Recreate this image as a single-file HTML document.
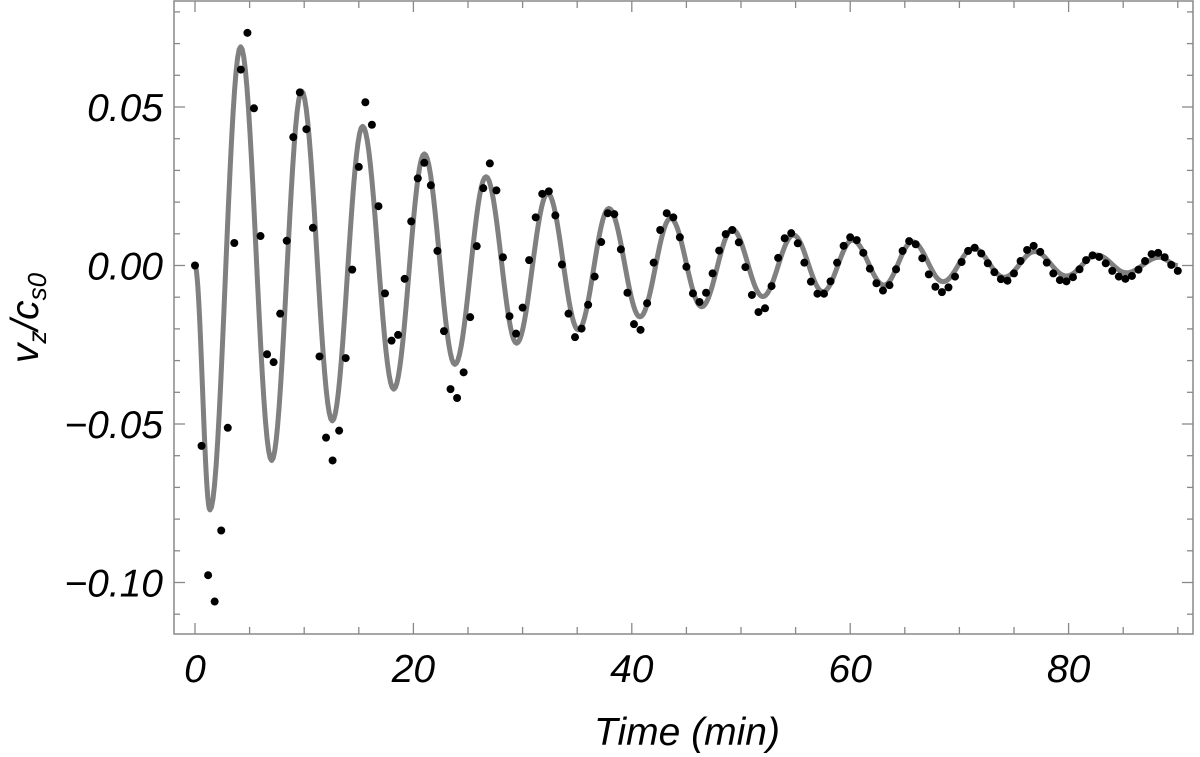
<!DOCTYPE html>
<html><head><meta charset="utf-8"><style>
html,body{margin:0;padding:0;background:#fff;}
svg{display:block;font-family:"Liberation Sans",sans-serif;}
</style></head><body>
<svg id="chart" width="1200" height="757" viewBox="0 0 1200 757">
<g id="ticks"></g>
<path id="fit" fill="none" stroke="#808080" stroke-width="5" stroke-linejoin="round"/>
<g id="dots"></g>
<rect x="174" y="1" width="1019" height="633" fill="none" stroke="#888" stroke-width="1.5"/>
<g id="labels" font-size="39" font-style="italic" fill="#000"></g>
<text x="687" y="745" font-size="39" font-style="italic" text-anchor="middle">Time (min)</text>
<text transform="translate(38,318) rotate(-90)" font-size="39" font-style="italic" text-anchor="middle">v<tspan font-size="26" dy="8">z</tspan><tspan dy="-8">/c</tspan><tspan font-size="26" dy="8">s0</tspan></text>
</svg>
<script>
const times = [0,0.6,1.2,1.8,2.4,3,3.6,4.2,4.8,5.4,6,6.6,7.2,7.8,8.4,9,9.6,10.2,10.8,11.4,12,12.6,13.2,13.8,14.4,15,15.6,16.2,16.8,17.4,18,18.6,19.2,19.8,20.4,21,21.6,22.2,22.8,23.4,24,24.6,25.2,25.8,26.4,27,27.6,28.2,28.8,29.4,30,30.6,31.2,31.8,32.4,33,33.6,34.2,34.8,35.4,36,36.6,37.2,37.8,38.4,39,39.6,40.2,40.8,41.4,42,42.6,43.2,43.8,44.4,45,45.6,46.2,46.8,47.4,48,48.6,49.2,49.8,50.4,51,51.6,52.2,52.8,53.4,54,54.6,55.2,55.8,56.4,57,57.6,58.2,58.8,59.4,60,60.6,61.2,61.8,62.4,63,63.6,64.2,64.8,65.4,66,66.6,67.2,67.8,68.4,69,69.6,70.2,70.8,71.4,72,72.6,73.2,73.8,74.4,75,75.6,76.2,76.8,77.4,78,78.6,79.2,79.8,80.4,81,81.6,82.2,82.8,83.4,84,84.6,85.2,85.8,86.4,87,87.6,88.2,88.8,89.4,90];
const values = [0,-0.0569,-0.0977,-0.106,-0.0836,-0.0512,0.0071,0.0618,0.0734,0.0496,0.0093,-0.028,-0.0305,-0.0152,0.0078,0.0405,0.0546,0.043,0.0119,-0.0287,-0.0543,-0.0615,-0.0521,-0.0292,-0.0013,0.0311,0.0515,0.0444,0.0187,-0.0088,-0.0237,-0.0219,-0.0042,0.0139,0.0275,0.0324,0.0253,0.0046,-0.0207,-0.039,-0.0418,-0.0337,-0.0163,0.0061,0.0244,0.0322,0.0237,0.0026,-0.016,-0.0215,-0.0133,0.0017,0.0152,0.0226,0.0234,0.0158,0.0003,-0.0152,-0.0226,-0.0199,-0.0124,-0.0035,0.0074,0.0165,0.0162,0.0051,-0.0086,-0.0185,-0.0203,-0.0119,0.0009,0.0112,0.0165,0.0152,0.0089,-0.0004,-0.0088,-0.0115,-0.0086,-0.0025,0.0047,0.0099,0.0112,0.0073,-0.0005,-0.0093,-0.0147,-0.0135,-0.0065,0.0024,0.0086,0.0102,0.007,0.0009,-0.0051,-0.0089,-0.0089,-0.005,0.0009,0.0062,0.0089,0.008,0.004,-0.001,-0.0056,-0.0079,-0.0062,-0.0012,0.0046,0.0077,0.0067,0.0023,-0.0028,-0.0067,-0.0084,-0.0069,-0.0035,0.0011,0.0046,0.0056,0.0038,0.0007,-0.0021,-0.0043,-0.0048,-0.0025,0.0014,0.0049,0.0062,0.0043,0.0009,-0.0025,-0.0046,-0.005,-0.0037,-0.0012,0.0017,0.0032,0.0027,0.0007,-0.0017,-0.0035,-0.0042,-0.0033,-0.0013,0.0014,0.0036,0.004,0.0026,0.0002,-0.0017];
const fitTimes = [0,1.37,4.18,7.02,9.77,12.57,15.35,18.2,21.0,23.8,26.65,29.45,32.3,35.1,37.9,40.75,43.55,46.4,49.2,52.0,54.8,57.5,60.2,63.1,65.7,68.5,71.3,74.1,76.9,79.8,82.6,85.3,88.3,90];
const fitValues = [0,-0.0771,0.069,-0.0615,0.055,-0.049,0.0439,-0.039,0.0352,-0.0312,0.028,-0.0245,0.0228,-0.0203,0.018,-0.0162,0.0149,-0.013,0.0114,-0.0098,0.0096,-0.0083,0.008,-0.0062,0.0075,-0.0051,0.0054,-0.0037,0.0044,-0.0033,0.0033,-0.0023,0.0026,0];
const xTickLabels = ["0","20","40","60","80"];
const xTickValues = [0,20,40,60,80];
const yTickLabels = ["0.05","0.00","\u22120.05","\u22120.10"];
const yTickValues = [0.05,0,-0.05,-0.1];

const NS="http://www.w3.org/2000/svg";
const X = t => 195 + 10.92*t;
const Y = v => 265.5 - 3170*v;
const L=174,R=1193,T=1,B=634;

let d="";
for(let i=0;i<fitTimes.length-1;i++){
  const t0=fitTimes[i],t1=fitTimes[i+1],a=fitValues[i],b=fitValues[i+1];
  for(let k=0;k<=20;k++){
    const f=k/20,t=t0+(t1-t0)*f,v=a+(b-a)*(1-Math.cos(Math.PI*f))/2;
    d+=(d?"L":"M")+X(t).toFixed(2)+","+Y(v).toFixed(2);
  }
}
document.getElementById('fit').setAttribute('d',d);

const dots=document.getElementById('dots');
for(let i=0;i<times.length;i++){
  const c=document.createElementNS(NS,'circle');
  c.setAttribute('cx',X(times[i]));c.setAttribute('cy',Y(values[i]));c.setAttribute('r',4);
  c.setAttribute('fill','#000');
  
  
  dots.appendChild(c);
}

const tg=document.getElementById('ticks');
function line(x1,y1,x2,y2){
  const l=document.createElementNS(NS,'line');
  l.setAttribute('x1',x1);l.setAttribute('y1',y1);l.setAttribute('x2',x2);l.setAttribute('y2',y2);
  l.setAttribute('stroke','#888');l.setAttribute('stroke-width','1.3');
  
  
  tg.appendChild(l);
}
for(let t=0;t<=90;t+=5){
  const major=t%20===0, len=major?11:7, x=X(t);
  line(x,B,x,B-len); line(x,T,x,T+len);
}
for(let k=-11;k<=8;k++){
  const v=k/100, y=Y(v), major=k%5===0, len=major?11:6;
  if(y<T||y>B) continue;
  line(L,y,L+len,y); line(R,y,R-len,y);
}
const lg=document.getElementById('labels');
xTickValues.forEach((v,i)=>{
  const t=document.createElementNS(NS,'text');
  t.setAttribute('x',X(v));t.setAttribute('y',682);t.setAttribute('text-anchor','middle');
  t.textContent=xTickLabels[i];
  
  
  lg.appendChild(t);
});
yTickValues.forEach((v,i)=>{
  const t=document.createElementNS(NS,'text');
  t.setAttribute('x',163);t.setAttribute('y',Y(v)+14);t.setAttribute('text-anchor','end');
  t.textContent=yTickLabels[i];
  
  
  lg.appendChild(t);
});
</script>
</body></html>
